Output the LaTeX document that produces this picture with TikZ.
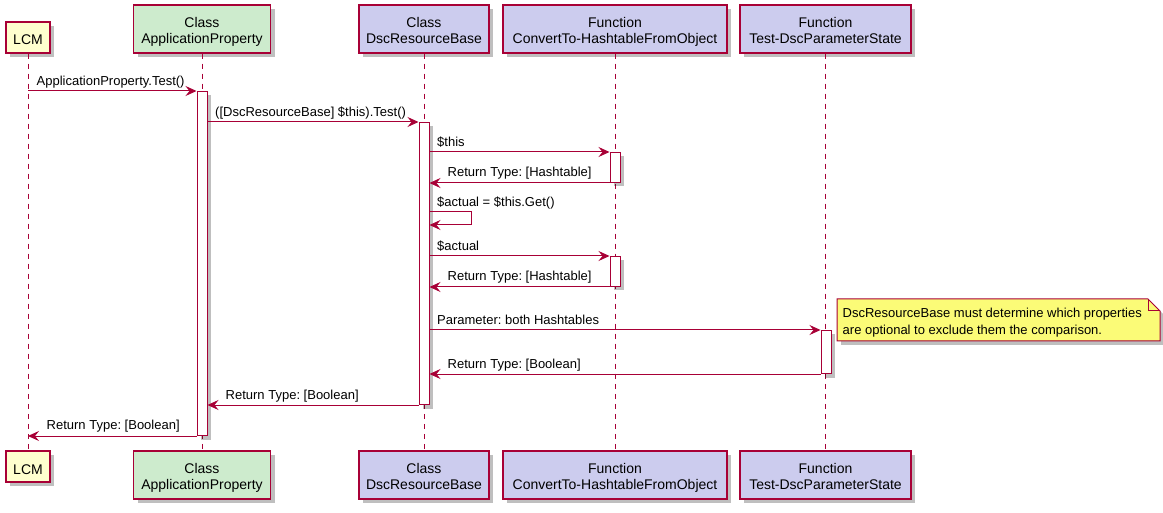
\documentclass[tikz,border=0pt]{standalone}
\usepackage{fontspec}
\setmainfont{Liberation Sans}
\usetikzlibrary{arrows.meta,shadows}
\definecolor{pline}{HTML}{A80036}
\definecolor{pyellow}{HTML}{FEFECE}
\definecolor{pgreen}{HTML}{CDEBCD}
\definecolor{pblue}{HTML}{CCCCEE}
\definecolor{pnote}{HTML}{FBFB77}
\newcommand{\twostrut}{\rule{0pt}{16pt}}
\newcommand{\onestrut}{\rule{0pt}{18pt}}
\newcommand{\lastdepth}{\rule[-3pt]{0pt}{3pt}}
\tikzset{
  shad/.style={drop shadow={shadow xshift=4pt, shadow yshift=-4pt, opacity=0.25, fill=black}},
  part/.style={draw=pline, line width=1.5pt, align=center, inner sep=0pt, text=black,
    font=\fontsize{14}{16.5}\selectfont, shad},
  one/.style={part, minimum height=31pt},
  two/.style={part, minimum height=48pt},
  lifeline/.style={draw=pline, line width=1pt, dash pattern=on 5pt off 5pt},
  act/.style={draw=pline, fill=white, line width=1pt, minimum width=10pt, inner sep=0pt, anchor=north, shad},
  msg/.style={draw=pline, line width=1pt, -{Stealth[length=11pt, width=10pt, inset=4pt]}},
  lbl/.style={font=\fontsize{13}{15}\selectfont, inner sep=0pt, anchor=base west},
  notebox/.style={draw=pline, fill=pnote, line width=1pt},
}
\begin{document}
\frenchspacing
\begin{tikzpicture}[x=1pt, y=-1pt]
\useasboundingbox (0,0) rectangle (1163,513);
% participants top
\node[one, fill=pyellow, minimum width=44pt] (lcmT) at (28,37.5) {\onestrut LCM\lastdepth};
\node[two, fill=pgreen, minimum width=137pt] (apT) at (202,29) {\twostrut Class\\ApplicationProperty\lastdepth};
\node[two, fill=pblue, minimum width=130pt] (dbT) at (424,29) {\twostrut Class\\DscResourceBase\lastdepth};
\node[two, fill=pblue, minimum width=224pt] (cvT) at (615,29) {\twostrut Function\\ConvertTo-HashtableFromObject\lastdepth};
\node[two, fill=pblue, minimum width=171pt] (tsT) at (825.5,29) {\twostrut Function\\Test-DscParameterState\lastdepth};
% participants bottom
\node[one, fill=pyellow, minimum width=44pt] (lcmB) at (28,466.5) {\onestrut LCM\lastdepth};
\node[two, fill=pgreen, minimum width=137pt] (apB) at (202,475) {\twostrut Class\\ApplicationProperty\lastdepth};
\node[two, fill=pblue, minimum width=130pt] (dbB) at (424,475) {\twostrut Class\\DscResourceBase\lastdepth};
\node[two, fill=pblue, minimum width=224pt] (cvB) at (615,475) {\twostrut Function\\ConvertTo-HashtableFromObject\lastdepth};
\node[two, fill=pblue, minimum width=171pt] (tsB) at (825.5,475) {\twostrut Function\\Test-DscParameterState\lastdepth};
% lifelines
\draw[lifeline] (lcmT) -- (lcmB);
\draw[lifeline] (apT) -- (apB);
\draw[lifeline] (dbT) -- (dbB);
\draw[lifeline] (cvT) -- (cvB);
\draw[lifeline] (tsT) -- (tsB);
% activations
\node[act, minimum height=344pt] (aAP) at (202,91) {};
\node[act, minimum height=282pt] (aDB) at (424,122) {};
\node[act, minimum height=30pt] (aCV1) at (615,152) {};
\node[act, minimum height=30pt] (aCV2) at (615,256) {};
\node[act, minimum height=43pt] (aTS) at (826,330) {};
% helper coordinates
\coordinate (m1) at (0,91);
\coordinate (s1) at (0,212);
\coordinate (s2) at (0,225);
% messages
\draw[msg] (lcmT |- m1) -- (aAP.north west);
\node[lbl] (t1) at (36.5,85.5) {ApplicationProperty.Test()};
\draw[msg] (aAP.east |- aDB.north) -- (aDB.north west);
\node[lbl] (t2) at (215,116.5) {([DscResourceBase] \$this).Test()};
\draw[msg] (aDB.east |- aCV1.north) -- (aCV1.north west);
\node[lbl] (t3) at (437,146.5) {\$this};
\draw[msg] (aCV1.south west) -- (aDB.east |- aCV1.south);
\node[lbl] (t4) at (447.5,177) {Return Type: [Hashtable]};
\draw[msg] (aDB.east |- s1) -- ++(42,0) -- ++(0,13) -- (aDB.east |- s2);
\node[lbl] (t5) at (437,206.5) {\$actual = \$this.Get()};
\draw[msg] (aDB.east |- aCV2.north) -- (aCV2.north west);
\node[lbl] (t6) at (437,250.5) {\$actual};
\draw[msg] (aCV2.south west) -- (aDB.east |- aCV2.south);
\node[lbl] (t7) at (447.5,281) {Return Type: [Hashtable]};
\draw[msg] (aDB.east |- aTS.north) -- (aTS.north west);
\node[lbl] (t8) at (437,325) {Parameter: both Hashtables};
\draw[msg] (aTS.south west) -- (aDB.east |- aTS.south);
\node[lbl] (t9) at (447.5,368.5) {Return Type: [Boolean]};
\draw[msg] (aDB.south west) -- (aAP.east |- aDB.south);
\node[lbl] (t10) at (225.5,399.5) {Return Type: [Boolean]};
\draw[msg] (aAP.south west) -- (lcmT |- aAP.south);
\node[lbl] (t11) at (46.5,429.5) {Return Type: [Boolean]};
% note
\draw[notebox, shad] (837,299) -- (1148,299) -- (1160,311) -- (1160,341) -- (837,341) -- cycle;
\draw[draw=pline, line width=1pt] (1148,299) -- (1148,311) -- (1160,311);
\node[lbl] (n1) at (842.5,317.5) {DscResourceBase must determine which properties};
\node[lbl] (n2) at (842.5,334.5) {are optional to exclude them the comparison.};
\end{tikzpicture}
\end{document}
